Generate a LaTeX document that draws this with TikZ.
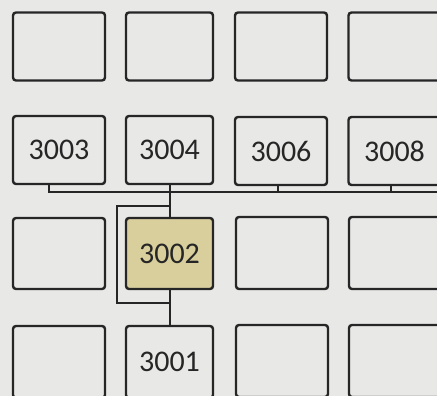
\documentclass[tikz,border=0pt]{standalone}
\usepackage{fontspec}
\setmainfont{Carlito}
\usepackage{xcolor}
\usepackage{tikz}
\usetikzlibrary{positioning}

\definecolor{paper}{HTML}{E8E8E6}
\definecolor{ink}{HTML}{262626}
\definecolor{khaki}{HTML}{D8CF9C}

\begin{document}
\begin{tikzpicture}[
  x=1pt, y=-1pt,
  every node/.style={font=\fontsize{30}{32}\selectfont, text=ink},
  room/.style={draw=ink, line width=2.4pt, rectangle, rounded corners=3pt,
               inner sep=0pt, minimum height=68pt},
  wideroom/.style={room, minimum width=92pt},
  narrowroom/.style={room, minimum width=87pt},
  wire/.style={draw=ink, line width=2pt}
]
  % Paper and frame
  \useasboundingbox (0,0) rectangle (437,396);
  \fill[paper] (0,0) rectangle (437,396);
  \clip (0,0) rectangle (437,396);

  % Top row
  \node[wideroom]   (r1c1) at (59, 46.5)  {};
  \node[narrowroom] (r1c2) at (169.5, 46.5) {};
  \node[wideroom]   (r1c3) at (281, 46.5) {};
  \node[wideroom]   (r1c4) at (394.5, 46.5) {};

  % Numbered row
  \node[wideroom]   (b3003) at (59, 150)    {3003};
  \node[narrowroom] (b3004) at (169.5, 150) {3004};
  \node[wideroom]   (b3006) at (281, 151)   {3006};
  \node[wideroom]   (b3008) at (394.5, 151) {3008};

  % Middle row
  \node[wideroom, minimum height=71pt] (r3c1) at (59, 253.5) {};
  \node[narrowroom, minimum height=71pt, fill=khaki] (b3002) at (169.5, 253.5) {3002};
  \node[wideroom, minimum height=72pt] (r3c3) at (282, 253) {};
  \node[wideroom, minimum height=72pt] (r3c4) at (395, 253) {};

  % Bottom row (cut off)
  \node[wideroom, minimum height=72pt] (r4c1) at (59, 362) {};
  \node[narrowroom, minimum height=72pt] (b3001) at (169.5, 362) {\raisebox{-6pt}{3001}};
  \node[wideroom, minimum height=72pt] (r4c3) at (282, 361) {};
  \node[wideroom, minimum height=72pt] (r4c4) at (395, 361) {};

  % Bus and bypass points
  \coordinate (busend) at (440, 192);
  \coordinate (loopA)  at (117, 206);
  \coordinate (loopB)  at (117, 303);

  % Connectors
  \draw[wire] ([xshift=-10pt]b3003.south) |- (busend);
  \draw[wire] ([xshift=-3pt]b3006.south) -- ([xshift=-3pt]b3006.south |- busend);
  \draw[wire] ([xshift=-4pt]b3008.south) -- ([xshift=-4pt]b3008.south |- busend);
  \draw[wire] (b3004.south) -- (b3002.north);
  \draw[wire] (b3002.south) -- (b3001.north);
  \draw[wire] (b3002.north |- loopA) -- (loopA) -- (loopB) -- (b3002.south |- loopB);
\end{tikzpicture}
\end{document}
